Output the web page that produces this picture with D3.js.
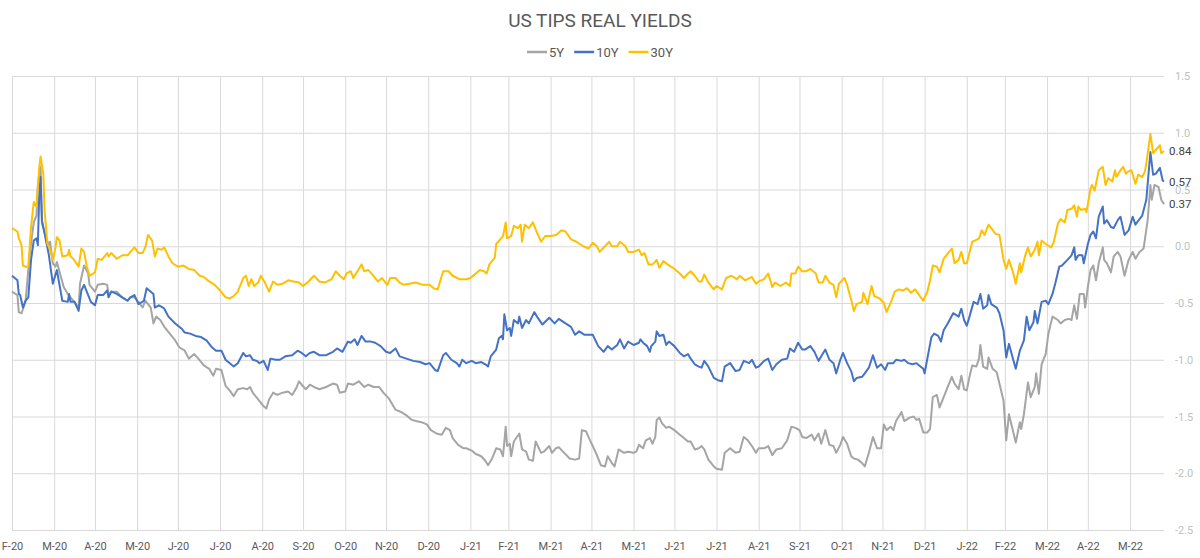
<!DOCTYPE html>
<html>
<head>
<meta charset="utf-8">
<script src="https://cdn.jsdelivr.net/npm/d3@7"></script>
<style>
    body { margin: 0; background: #fff; }
    text { font-family: Roboto, "DejaVu Sans", sans-serif; }
</style>
</head>
<body>
<svg id="chart"></svg>
<script>
// series + axis values
const seriesNames = ["5Y", "10Y", "30Y"];
const seriesColors = ["#a5a5a5", "#4472c4", "#ffc000"];
const yTicks = [-2.5, -2.0, -1.5, -1.0, -0.5, 0.0, 0.5, 1.0, 1.5];
const dateRange = ["2020-02-29", "2022-06-25"];

const yields5Y = [["2020-02-29",-0.40],["2020-03-04",-0.43],["2020-03-05",-0.58],["2020-03-07",-0.59],["2020-03-09",-0.52],["2020-03-10",-0.48],["2020-03-13",-0.07],["2020-03-16",0.21],["2020-03-18",0.27],["2020-03-19",0.54],["2020-03-21",0.70],["2020-03-22",0.20],["2020-03-25",0.08],["2020-03-27",0.01],["2020-03-28",0.04],["2020-03-30",-0.15],["2020-04-01",-0.18],["2020-04-02",-0.14],["2020-04-05",-0.27],["2020-04-07",-0.36],["2020-04-10",-0.42],["2020-04-12",-0.45],["2020-04-14",-0.48],["2020-04-18",-0.54],["2020-04-19",-0.33],["2020-04-22",-0.17],["2020-04-25",-0.24],["2020-04-26",-0.34],["2020-04-30",-0.40],["2020-05-02",-0.34],["2020-05-06",-0.33],["2020-05-09",-0.34],["2020-05-10",-0.43],["2020-05-12",-0.40],["2020-05-16",-0.40],["2020-05-20",-0.45],["2020-05-24",-0.48],["2020-05-26",-0.45],["2020-05-29",-0.45],["2020-06-01",-0.49],["2020-06-04",-0.54],["2020-06-06",-0.48],["2020-06-10",-0.54],["2020-06-12",-0.68],["2020-06-14",-0.62],["2020-06-17",-0.65],["2020-06-20",-0.71],["2020-06-24",-0.77],["2020-06-28",-0.83],["2020-07-01",-0.89],["2020-07-05",-0.92],["2020-07-08",-0.99],["2020-07-12",-0.95],["2020-07-15",-0.99],["2020-07-19",-1.05],["2020-07-23",-1.08],["2020-07-26",-1.14],["2020-07-28",-1.08],["2020-08-01",-1.09],["2020-08-04",-1.23],["2020-08-07",-1.27],["2020-08-10",-1.32],["2020-08-13",-1.26],["2020-08-17",-1.25],["2020-08-20",-1.26],["2020-08-22",-1.24],["2020-08-24",-1.29],["2020-08-28",-1.35],["2020-09-01",-1.41],["2020-09-03",-1.43],["2020-09-05",-1.35],["2020-09-08",-1.29],["2020-09-11",-1.31],["2020-09-15",-1.29],["2020-09-19",-1.28],["2020-09-22",-1.31],["2020-09-25",-1.25],["2020-09-27",-1.19],["2020-09-29",-1.22],["2020-10-02",-1.26],["2020-10-05",-1.22],["2020-10-08",-1.24],["2020-10-12",-1.26],["2020-10-17",-1.24],["2020-10-22",-1.21],["2020-10-25",-1.22],["2020-10-27",-1.29],["2020-10-31",-1.28],["2020-11-02",-1.21],["2020-11-06",-1.22],["2020-11-10",-1.19],["2020-11-14",-1.24],["2020-11-17",-1.22],["2020-11-21",-1.24],["2020-11-25",-1.24],["2020-11-28",-1.29],["2020-12-02",-1.34],["2020-12-05",-1.40],["2020-12-07",-1.44],["2020-12-11",-1.46],["2020-12-15",-1.49],["2020-12-19",-1.53],["2020-12-22",-1.54],["2020-12-26",-1.55],["2020-12-30",-1.57],["2021-01-02",-1.62],["2021-01-06",-1.65],["2021-01-10",-1.66],["2021-01-13",-1.60],["2021-01-16",-1.62],["2021-01-18",-1.69],["2021-01-22",-1.75],["2021-01-26",-1.78],["2021-01-28",-1.78],["2021-02-01",-1.80],["2021-02-04",-1.83],["2021-02-08",-1.85],["2021-02-11",-1.89],["2021-02-13",-1.93],["2021-02-16",-1.87],["2021-02-19",-1.78],["2021-02-22",-1.79],["2021-02-24",-1.85],["2021-02-26",-1.59],["2021-02-27",-1.76],["2021-03-01",-1.74],["2021-03-02",-1.85],["2021-03-04",-1.72],["2021-03-08",-1.65],["2021-03-10",-1.79],["2021-03-13",-1.81],["2021-03-15",-1.88],["2021-03-18",-1.89],["2021-03-20",-1.72],["2021-03-24",-1.82],["2021-03-26",-1.81],["2021-03-30",-1.76],["2021-04-01",-1.82],["2021-04-04",-1.78],["2021-04-06",-1.77],["2021-04-10",-1.82],["2021-04-14",-1.87],["2021-04-18",-1.88],["2021-04-21",-1.87],["2021-04-23",-1.62],["2021-04-26",-1.63],["2021-04-29",-1.71],["2021-05-01",-1.76],["2021-05-04",-1.84],["2021-05-07",-1.93],["2021-05-10",-1.94],["2021-05-12",-1.85],["2021-05-15",-1.91],["2021-05-17",-1.94],["2021-05-20",-1.79],["2021-05-24",-1.82],["2021-05-27",-1.81],["2021-05-31",-1.82],["2021-06-02",-1.81],["2021-06-04",-1.75],["2021-06-07",-1.78],["2021-06-09",-1.71],["2021-06-12",-1.69],["2021-06-14",-1.74],["2021-06-16",-1.68],["2021-06-17",-1.53],["2021-06-19",-1.51],["2021-06-21",-1.56],["2021-06-24",-1.60],["2021-06-26",-1.59],["2021-06-30",-1.62],["2021-07-04",-1.66],["2021-07-07",-1.69],["2021-07-10",-1.72],["2021-07-12",-1.72],["2021-07-15",-1.79],["2021-07-18",-1.78],["2021-07-20",-1.76],["2021-07-22",-1.79],["2021-07-25",-1.88],["2021-07-29",-1.94],["2021-07-31",-1.96],["2021-08-04",-1.97],["2021-08-06",-1.82],["2021-08-10",-1.78],["2021-08-14",-1.82],["2021-08-17",-1.81],["2021-08-20",-1.68],["2021-08-23",-1.71],["2021-08-26",-1.76],["2021-08-29",-1.82],["2021-08-31",-1.78],["2021-09-04",-1.78],["2021-09-07",-1.76],["2021-09-10",-1.84],["2021-09-13",-1.79],["2021-09-17",-1.78],["2021-09-21",-1.71],["2021-09-24",-1.59],["2021-09-27",-1.60],["2021-09-30",-1.62],["2021-10-02",-1.68],["2021-10-05",-1.69],["2021-10-09",-1.66],["2021-10-11",-1.71],["2021-10-14",-1.65],["2021-10-16",-1.74],["2021-10-19",-1.62],["2021-10-22",-1.75],["2021-10-25",-1.76],["2021-10-27",-1.82],["2021-10-30",-1.75],["2021-11-01",-1.68],["2021-11-04",-1.74],["2021-11-07",-1.85],["2021-11-09",-1.87],["2021-11-12",-1.88],["2021-11-15",-1.91],["2021-11-17",-1.94],["2021-11-20",-1.82],["2021-11-23",-1.68],["2021-11-26",-1.78],["2021-11-29",-1.78],["2021-12-01",-1.57],["2021-12-03",-1.62],["2021-12-06",-1.59],["2021-12-08",-1.62],["2021-12-10",-1.54],["2021-12-14",-1.46],["2021-12-16",-1.54],["2021-12-20",-1.51],["2021-12-23",-1.50],["2021-12-25",-1.53],["2021-12-27",-1.52],["2021-12-30",-1.64],["2022-01-02",-1.64],["2022-01-04",-1.61],["2022-01-06",-1.33],["2022-01-09",-1.31],["2022-01-11",-1.42],["2022-01-14",-1.33],["2022-01-17",-1.24],["2022-01-20",-1.15],["2022-01-22",-1.21],["2022-01-25",-1.26],["2022-01-27",-1.14],["2022-01-29",-1.26],["2022-01-31",-1.27],["2022-02-02",-1.15],["2022-02-04",-1.05],["2022-02-07",-1.06],["2022-02-09",-0.99],["2022-02-10",-0.87],["2022-02-12",-1.06],["2022-02-15",-1.08],["2022-02-16",-0.98],["2022-02-19",-1.08],["2022-02-22",-1.11],["2022-02-24",-1.21],["2022-02-27",-1.36],["2022-03-01",-1.71],["2022-03-03",-1.48],["2022-03-05",-1.58],["2022-03-08",-1.73],["2022-03-11",-1.55],["2022-03-12",-1.61],["2022-03-14",-1.48],["2022-03-17",-1.20],["2022-03-19",-1.33],["2022-03-22",-1.24],["2022-03-23",-1.12],["2022-03-25",-1.30],["2022-03-27",-1.04],["2022-03-30",-0.95],["2022-04-01",-0.77],["2022-04-04",-0.62],["2022-04-08",-0.65],["2022-04-10",-0.68],["2022-04-13",-0.65],["2022-04-16",-0.64],["2022-04-18",-0.65],["2022-04-20",-0.52],["2022-04-22",-0.64],["2022-04-24",-0.42],["2022-04-27",-0.42],["2022-04-28",-0.54],["2022-04-30",-0.36],["2022-05-02",-0.21],["2022-05-04",-0.17],["2022-05-06",-0.30],["2022-05-08",-0.15],["2022-05-11",-0.01],["2022-05-12",-0.12],["2022-05-14",-0.15],["2022-05-17",-0.23],["2022-05-19",-0.09],["2022-05-22",-0.05],["2022-05-24",-0.09],["2022-05-27",-0.26],["2022-05-30",-0.12],["2022-06-02",-0.05],["2022-06-04",-0.11],["2022-06-07",-0.05],["2022-06-10",-0.02],["2022-06-13",0.23],["2022-06-15",0.54],["2022-06-16",0.41],["2022-06-18",0.54],["2022-06-21",0.52],["2022-06-23",0.41],["2022-06-25",0.37]];

const yields10Y = [["2020-02-29",-0.26],["2020-03-04",-0.30],["2020-03-05",-0.42],["2020-03-06",-0.43],["2020-03-08",-0.54],["2020-03-10",-0.48],["2020-03-12",-0.45],["2020-03-14",-0.12],["2020-03-16",0.05],["2020-03-18",0.07],["2020-03-19",0.01],["2020-03-20",0.44],["2020-03-21",0.61],["2020-03-22",0.23],["2020-03-24",0.11],["2020-03-27",-0.07],["2020-03-30",-0.33],["2020-04-02",-0.21],["2020-04-06",-0.48],["2020-04-10",-0.49],["2020-04-11",-0.42],["2020-04-12",-0.49],["2020-04-15",-0.49],["2020-04-18",-0.57],["2020-04-20",-0.39],["2020-04-22",-0.34],["2020-04-25",-0.43],["2020-04-27",-0.49],["2020-04-30",-0.52],["2020-05-02",-0.43],["2020-05-06",-0.43],["2020-05-09",-0.39],["2020-05-10",-0.45],["2020-05-12",-0.40],["2020-05-16",-0.42],["2020-05-20",-0.45],["2020-05-24",-0.48],["2020-05-26",-0.45],["2020-05-29",-0.43],["2020-06-01",-0.51],["2020-06-05",-0.48],["2020-06-07",-0.37],["2020-06-10",-0.40],["2020-06-12",-0.42],["2020-06-13",-0.54],["2020-06-16",-0.52],["2020-06-19",-0.54],["2020-06-20",-0.55],["2020-06-23",-0.62],["2020-06-28",-0.68],["2020-07-03",-0.73],["2020-07-05",-0.76],["2020-07-09",-0.77],["2020-07-13",-0.79],["2020-07-17",-0.80],["2020-07-21",-0.83],["2020-07-25",-0.89],["2020-07-28",-0.92],["2020-08-01",-0.92],["2020-08-04",-1.00],["2020-08-06",-1.02],["2020-08-10",-1.06],["2020-08-13",-1.03],["2020-08-17",-0.94],["2020-08-19",-0.97],["2020-08-22",-0.96],["2020-08-24",-1.00],["2020-08-27",-1.01],["2020-08-29",-1.03],["2020-09-01",-1.01],["2020-09-04",-1.09],["2020-09-06",-0.99],["2020-09-10",-1.00],["2020-09-13",-1.00],["2020-09-17",-0.97],["2020-09-22",-0.96],["2020-09-26",-0.92],["2020-09-29",-0.94],["2020-10-02",-0.97],["2020-10-05",-0.94],["2020-10-08",-0.93],["2020-10-12",-0.96],["2020-10-17",-0.96],["2020-10-22",-0.93],["2020-10-25",-0.90],["2020-10-29",-0.93],["2020-11-02",-0.84],["2020-11-04",-0.85],["2020-11-07",-0.82],["2020-11-09",-0.87],["2020-11-12",-0.79],["2020-11-15",-0.84],["2020-11-19",-0.84],["2020-11-22",-0.85],["2020-11-26",-0.88],["2020-11-30",-0.93],["2020-12-03",-0.94],["2020-12-07",-0.90],["2020-12-10",-0.97],["2020-12-15",-0.99],["2020-12-20",-1.01],["2020-12-25",-1.02],["2020-12-29",-1.04],["2021-01-01",-1.03],["2021-01-05",-1.09],["2021-01-07",-1.10],["2021-01-11",-0.96],["2021-01-13",-0.94],["2021-01-17",-1.00],["2021-01-21",-1.03],["2021-01-23",-1.06],["2021-01-25",-1.00],["2021-01-28",-1.03],["2021-02-01",-1.01],["2021-02-04",-1.03],["2021-02-08",-1.02],["2021-02-11",-1.04],["2021-02-13",-1.06],["2021-02-15",-0.97],["2021-02-19",-0.91],["2021-02-21",-0.81],["2021-02-23",-0.79],["2021-02-24",-0.82],["2021-02-25",-0.60],["2021-02-27",-0.74],["2021-03-01",-0.72],["2021-03-02",-0.79],["2021-03-04",-0.65],["2021-03-07",-0.68],["2021-03-08",-0.62],["2021-03-10",-0.72],["2021-03-13",-0.65],["2021-03-15",-0.68],["2021-03-19",-0.58],["2021-03-21",-0.62],["2021-03-25",-0.69],["2021-03-30",-0.63],["2021-04-03",-0.68],["2021-04-06",-0.64],["2021-04-11",-0.68],["2021-04-15",-0.71],["2021-04-18",-0.78],["2021-04-21",-0.75],["2021-04-25",-0.78],["2021-04-29",-0.78],["2021-05-01",-0.78],["2021-05-05",-0.88],["2021-05-09",-0.93],["2021-05-12",-0.88],["2021-05-15",-0.91],["2021-05-19",-0.87],["2021-05-21",-0.82],["2021-05-24",-0.90],["2021-05-27",-0.84],["2021-05-31",-0.87],["2021-06-04",-0.85],["2021-06-05",-0.82],["2021-06-07",-0.85],["2021-06-10",-0.88],["2021-06-12",-0.93],["2021-06-13",-0.88],["2021-06-16",-0.84],["2021-06-17",-0.75],["2021-06-19",-0.79],["2021-06-22",-0.78],["2021-06-24",-0.87],["2021-06-26",-0.84],["2021-06-30",-0.88],["2021-07-04",-0.94],["2021-07-07",-0.97],["2021-07-10",-0.95],["2021-07-12",-0.99],["2021-07-15",-1.04],["2021-07-18",-1.06],["2021-07-20",-1.07],["2021-07-22",-1.01],["2021-07-25",-1.06],["2021-07-29",-1.16],["2021-08-01",-1.18],["2021-08-04",-1.19],["2021-08-06",-1.06],["2021-08-10",-1.03],["2021-08-14",-1.10],["2021-08-17",-1.09],["2021-08-20",-1.01],["2021-08-24",-1.03],["2021-08-26",-1.00],["2021-08-29",-1.07],["2021-08-31",-1.06],["2021-09-04",-1.01],["2021-09-07",-0.99],["2021-09-10",-1.09],["2021-09-13",-1.04],["2021-09-17",-1.00],["2021-09-21",-0.99],["2021-09-23",-0.90],["2021-09-26",-0.93],["2021-09-29",-0.85],["2021-10-02",-0.91],["2021-10-04",-0.91],["2021-10-08",-0.88],["2021-10-11",-0.93],["2021-10-14",-1.01],["2021-10-16",-0.97],["2021-10-19",-0.91],["2021-10-22",-1.00],["2021-10-25",-1.03],["2021-10-27",-1.12],["2021-10-30",-1.00],["2021-11-01",-0.94],["2021-11-04",-1.03],["2021-11-07",-1.10],["2021-11-09",-1.19],["2021-11-11",-1.16],["2021-11-15",-1.15],["2021-11-17",-1.12],["2021-11-20",-1.07],["2021-11-23",-0.96],["2021-11-26",-1.07],["2021-11-29",-1.04],["2021-12-02",-1.09],["2021-12-04",-1.03],["2021-12-08",-1.03],["2021-12-10",-1.00],["2021-12-14",-1.01],["2021-12-16",-1.00],["2021-12-19",-1.03],["2021-12-22",-1.04],["2021-12-25",-1.03],["2021-12-27",-1.05],["2021-12-30",-1.08],["2021-12-31",-1.12],["2022-01-02",-0.99],["2022-01-05",-0.80],["2022-01-07",-0.77],["2022-01-10",-0.79],["2022-01-12",-0.84],["2022-01-14",-0.74],["2022-01-17",-0.68],["2022-01-21",-0.59],["2022-01-25",-0.62],["2022-01-27",-0.55],["2022-01-29",-0.65],["2022-01-31",-0.70],["2022-02-02",-0.62],["2022-02-05",-0.49],["2022-02-08",-0.51],["2022-02-10",-0.42],["2022-02-12",-0.55],["2022-02-15",-0.52],["2022-02-16",-0.43],["2022-02-18",-0.51],["2022-02-22",-0.54],["2022-02-24",-0.59],["2022-02-27",-0.74],["2022-03-01",-0.98],["2022-03-03",-0.86],["2022-03-05",-0.95],["2022-03-08",-1.08],["2022-03-11",-0.92],["2022-03-12",-0.89],["2022-03-14",-0.83],["2022-03-16",-0.62],["2022-03-18",-0.74],["2022-03-21",-0.67],["2022-03-22",-0.57],["2022-03-24",-0.68],["2022-03-27",-0.49],["2022-03-30",-0.48],["2022-04-01",-0.51],["2022-04-04",-0.42],["2022-04-06",-0.33],["2022-04-09",-0.18],["2022-04-11",-0.17],["2022-04-15",-0.12],["2022-04-18",-0.08],["2022-04-20",-0.01],["2022-04-21",-0.12],["2022-04-23",-0.08],["2022-04-26",-0.08],["2022-04-27",-0.15],["2022-04-30",0.02],["2022-05-02",0.10],["2022-05-04",0.13],["2022-05-06",0.07],["2022-05-08",0.26],["2022-05-11",0.35],["2022-05-12",0.20],["2022-05-14",0.23],["2022-05-17",0.17],["2022-05-19",0.16],["2022-05-22",0.23],["2022-05-24",0.26],["2022-05-27",0.10],["2022-05-30",0.14],["2022-06-02",0.26],["2022-06-04",0.19],["2022-06-07",0.24],["2022-06-09",0.27],["2022-06-12",0.41],["2022-06-15",0.83],["2022-06-17",0.63],["2022-06-19",0.64],["2022-06-22",0.69],["2022-06-24",0.58],["2022-06-25",0.57]];

const yields30Y = [["2020-02-29",0.16],["2020-03-04",0.13],["2020-03-05",0.07],["2020-03-07",0.01],["2020-03-08",-0.17],["2020-03-10",-0.18],["2020-03-12",-0.18],["2020-03-14",0.17],["2020-03-16",0.39],["2020-03-18",0.35],["2020-03-20",0.69],["2020-03-21",0.79],["2020-03-23",0.64],["2020-03-24",0.30],["2020-03-25",0.17],["2020-03-26",0.02],["2020-03-28",-0.03],["2020-03-30",-0.12],["2020-04-01",-0.01],["2020-04-02",0.08],["2020-04-04",0.05],["2020-04-06",-0.09],["2020-04-10",-0.08],["2020-04-11",-0.03],["2020-04-12",-0.09],["2020-04-14",-0.11],["2020-04-18",-0.18],["2020-04-20",-0.02],["2020-04-22",-0.05],["2020-04-24",-0.18],["2020-04-26",-0.26],["2020-04-30",-0.23],["2020-05-02",-0.11],["2020-05-05",-0.12],["2020-05-09",-0.06],["2020-05-10",-0.09],["2020-05-12",-0.06],["2020-05-16",-0.11],["2020-05-20",-0.08],["2020-05-24",-0.08],["2020-05-26",-0.05],["2020-05-29",-0.01],["2020-06-01",-0.06],["2020-06-04",-0.06],["2020-06-06",-0.01],["2020-06-08",0.10],["2020-06-11",0.05],["2020-06-13",-0.09],["2020-06-15",-0.02],["2020-06-18",-0.03],["2020-06-20",-0.01],["2020-06-23",-0.09],["2020-06-26",-0.15],["2020-06-30",-0.18],["2020-07-04",-0.17],["2020-07-08",-0.20],["2020-07-12",-0.21],["2020-07-16",-0.26],["2020-07-19",-0.27],["2020-07-23",-0.31],["2020-07-27",-0.34],["2020-07-31",-0.39],["2020-08-04",-0.45],["2020-08-07",-0.46],["2020-08-10",-0.44],["2020-08-13",-0.40],["2020-08-17",-0.28],["2020-08-19",-0.26],["2020-08-21",-0.35],["2020-08-23",-0.29],["2020-08-25",-0.35],["2020-08-28",-0.32],["2020-08-30",-0.26],["2020-09-02",-0.32],["2020-09-05",-0.40],["2020-09-08",-0.31],["2020-09-11",-0.34],["2020-09-15",-0.33],["2020-09-19",-0.30],["2020-09-23",-0.31],["2020-09-27",-0.32],["2020-09-30",-0.35],["2020-10-04",-0.31],["2020-10-08",-0.26],["2020-10-12",-0.31],["2020-10-16",-0.32],["2020-10-21",-0.29],["2020-10-24",-0.22],["2020-10-27",-0.26],["2020-10-30",-0.29],["2020-11-01",-0.24],["2020-11-04",-0.22],["2020-11-06",-0.28],["2020-11-09",-0.22],["2020-11-12",-0.16],["2020-11-14",-0.22],["2020-11-17",-0.21],["2020-11-20",-0.25],["2020-11-24",-0.31],["2020-11-27",-0.28],["2020-12-01",-0.34],["2020-12-03",-0.28],["2020-12-07",-0.28],["2020-12-10",-0.32],["2020-12-13",-0.34],["2020-12-17",-0.33],["2020-12-22",-0.32],["2020-12-27",-0.34],["2021-01-01",-0.34],["2021-01-04",-0.37],["2021-01-07",-0.38],["2021-01-11",-0.22],["2021-01-15",-0.22],["2021-01-18",-0.26],["2021-01-23",-0.29],["2021-01-28",-0.29],["2021-01-31",-0.28],["2021-02-03",-0.25],["2021-02-07",-0.21],["2021-02-10",-0.22],["2021-02-12",-0.24],["2021-02-14",-0.16],["2021-02-18",-0.10],["2021-02-19",0.02],["2021-02-22",0.06],["2021-02-24",0.09],["2021-02-26",0.21],["2021-02-27",0.07],["2021-03-02",0.09],["2021-03-04",0.18],["2021-03-07",0.16],["2021-03-09",0.19],["2021-03-10",0.04],["2021-03-12",0.19],["2021-03-15",0.16],["2021-03-18",0.21],["2021-03-21",0.12],["2021-03-24",0.04],["2021-03-27",0.09],["2021-03-31",0.09],["2021-04-04",0.10],["2021-04-08",0.14],["2021-04-11",0.13],["2021-04-15",0.06],["2021-04-19",0.04],["2021-04-24",0.00],["2021-04-28",-0.02],["2021-05-01",0.03],["2021-05-04",0.00],["2021-05-06",-0.05],["2021-05-10",0.00],["2021-05-13",0.04],["2021-05-15",0.00],["2021-05-19",0.00],["2021-05-21",0.04],["2021-05-25",0.00],["2021-05-27",-0.05],["2021-05-31",-0.05],["2021-06-04",-0.03],["2021-06-06",-0.08],["2021-06-08",-0.06],["2021-06-11",-0.16],["2021-06-14",-0.16],["2021-06-17",-0.12],["2021-06-19",-0.19],["2021-06-22",-0.13],["2021-06-25",-0.16],["2021-06-29",-0.19],["2021-07-04",-0.24],["2021-07-07",-0.28],["2021-07-10",-0.24],["2021-07-12",-0.22],["2021-07-15",-0.26],["2021-07-18",-0.31],["2021-07-20",-0.31],["2021-07-22",-0.25],["2021-07-25",-0.32],["2021-07-29",-0.38],["2021-07-31",-0.35],["2021-08-04",-0.38],["2021-08-07",-0.28],["2021-08-11",-0.26],["2021-08-15",-0.29],["2021-08-17",-0.26],["2021-08-21",-0.30],["2021-08-26",-0.27],["2021-08-29",-0.33],["2021-08-31",-0.31],["2021-09-04",-0.29],["2021-09-07",-0.24],["2021-09-10",-0.36],["2021-09-12",-0.32],["2021-09-16",-0.35],["2021-09-20",-0.32],["2021-09-23",-0.35],["2021-09-24",-0.24],["2021-09-27",-0.24],["2021-09-29",-0.18],["2021-10-02",-0.22],["2021-10-05",-0.22],["2021-10-08",-0.20],["2021-10-12",-0.24],["2021-10-14",-0.32],["2021-10-17",-0.32],["2021-10-19",-0.26],["2021-10-22",-0.32],["2021-10-25",-0.34],["2021-10-27",-0.45],["2021-10-29",-0.33],["2021-11-02",-0.28],["2021-11-04",-0.34],["2021-11-06",-0.43],["2021-11-07",-0.47],["2021-11-09",-0.57],["2021-11-11",-0.51],["2021-11-15",-0.49],["2021-11-16",-0.41],["2021-11-19",-0.51],["2021-11-22",-0.35],["2021-11-24",-0.44],["2021-11-28",-0.46],["2021-12-01",-0.50],["2021-12-03",-0.58],["2021-12-07",-0.47],["2021-12-09",-0.40],["2021-12-12",-0.38],["2021-12-15",-0.39],["2021-12-18",-0.37],["2021-12-21",-0.41],["2021-12-24",-0.38],["2021-12-27",-0.43],["2021-12-30",-0.48],["2022-01-02",-0.40],["2022-01-04",-0.30],["2022-01-06",-0.17],["2022-01-09",-0.18],["2022-01-11",-0.23],["2022-01-14",-0.11],["2022-01-16",-0.08],["2022-01-20",-0.02],["2022-01-22",-0.15],["2022-01-25",-0.12],["2022-01-27",-0.05],["2022-01-29",-0.15],["2022-01-31",-0.15],["2022-02-04",0.04],["2022-02-06",0.05],["2022-02-09",0.07],["2022-02-11",0.14],["2022-02-13",0.10],["2022-02-16",0.19],["2022-02-18",0.16],["2022-02-21",0.11],["2022-02-24",0.10],["2022-02-27",-0.12],["2022-03-01",-0.20],["2022-03-03",-0.12],["2022-03-06",-0.23],["2022-03-08",-0.33],["2022-03-11",-0.15],["2022-03-12",-0.23],["2022-03-15",-0.08],["2022-03-17",-0.01],["2022-03-19",-0.09],["2022-03-22",-0.03],["2022-03-24",0.04],["2022-03-25",-0.08],["2022-03-27",0.05],["2022-03-30",0.02],["2022-04-03",-0.01],["2022-04-05",0.04],["2022-04-08",0.20],["2022-04-10",0.24],["2022-04-13",0.21],["2022-04-15",0.32],["2022-04-18",0.33],["2022-04-20",0.36],["2022-04-22",0.26],["2022-04-23",0.35],["2022-04-25",0.32],["2022-04-28",0.33],["2022-04-29",0.30],["2022-05-02",0.51],["2022-05-03",0.54],["2022-05-05",0.49],["2022-05-08",0.67],["2022-05-11",0.70],["2022-05-13",0.54],["2022-05-15",0.60],["2022-05-18",0.57],["2022-05-20",0.67],["2022-05-21",0.61],["2022-05-24",0.67],["2022-05-26",0.70],["2022-05-28",0.64],["2022-05-30",0.66],["2022-06-01",0.67],["2022-06-04",0.55],["2022-06-06",0.63],["2022-06-09",0.61],["2022-06-11",0.66],["2022-06-12",0.73],["2022-06-15",0.99],["2022-06-17",0.82],["2022-06-19",0.85],["2022-06-22",0.89],["2022-06-23",0.82],["2022-06-25",0.84]];

// init setting
const svg = d3.select("#chart")
    .attr("width", 1200)
    .attr("height", 558);
const plot = { left: 12, right: 1164, top: 76, bottom: 530 };
const parseDate = d3.timeParse("%Y-%m-%d");

const series = seriesNames.map((name, i) => ({
    name: name,
    color: seriesColors[i],
    values: [yields5Y, yields10Y, yields30Y][i].map(d => ({ date: parseDate(d[0]), value: d[1] }))
}));

// scales
const xScale = d3.scaleTime()
    .domain(dateRange.map(parseDate))
    .range([plot.left, plot.right]);
const yScale = d3.scaleLinear()
    .domain([-2.5, 1.5])
    .range([plot.bottom, plot.top]);

// month-end ticks (the original axis labels each month at its last day)
const monthEnds = d3.timeMonth.range(parseDate("2020-03-01"), parseDate("2022-06-02"))
    .map(d => d3.timeDay.offset(d, -1));
const fmtMonth = d3.timeFormat("%b");
const fmtYear = d3.timeFormat("%y");

// x-axis with vertical gridlines
const xAxis = svg.append("g")
    .attr("class", "x-axis")
    .attr("transform", `translate(0, ${plot.bottom})`)
    .call(d3.axisBottom(xScale)
        .tickValues(monthEnds)
        .tickSizeInner(-(plot.bottom - plot.top))
        .tickSizeOuter(0)
        .tickPadding(12)
        .tickFormat(d => fmtMonth(d)[0] + "-" + fmtYear(d)));
xAxis.select(".domain").remove();
xAxis.selectAll("line").attr("stroke", "#d9d9d9");
xAxis.selectAll("text")
    .attr("fill", "#595959")
    .style("font-size", "11px");

// y-axis on the right with horizontal gridlines
const yAxis = svg.append("g")
    .attr("class", "y-axis")
    .attr("transform", `translate(${plot.right}, 0)`)
    .call(d3.axisRight(yScale)
        .tickValues(yTicks)
        .tickSizeInner(-(plot.right - plot.left))
        .tickSizeOuter(0)
        .tickPadding(11)
        .tickFormat(d => d.toFixed(1)));
yAxis.select(".domain").remove();
yAxis.selectAll("line").attr("stroke", "#d9d9d9");
yAxis.selectAll("text")
    .attr("fill", "#bfbfbf")
    .style("font-size", "11px");

// lines
const line = d3.line()
    .x(d => xScale(d.date))
    .y(d => yScale(d.value));

svg.selectAll(".series")
    .data(series)
    .enter().append("path")
    .attr("class", "series")
    .attr("fill", "none")
    .attr("stroke", d => d.color)
    .attr("stroke-width", 2)
    .attr("stroke-linejoin", "round")
    .attr("d", d => line(d.values));

// last value labels
svg.selectAll(".last-label")
    .data(series)
    .enter().append("text")
    .attr("class", "last-label")
    .attr("x", d => xScale(d.values[d.values.length - 1].date) + 5)
    .attr("y", d => yScale(d.values[d.values.length - 1].value))
    .attr("dy", "0.35em")
    .attr("fill", "#404040")
    .style("font-size", "11.5px")
    .text(d => d.values[d.values.length - 1].value.toFixed(2));

// title
svg.append("text")
    .attr("x", 600)
    .attr("y", 27)
    .attr("text-anchor", "middle")
    .attr("fill", "#595959")
    .style("font-size", "19px")
    .text("US TIPS REAL YIELDS");

// legend
const legend = svg.append("g").attr("class", "legend");
let cursor = 0;
series.forEach(s => {
    const item = legend.append("g").attr("transform", `translate(${cursor}, 0)`);
    item.append("line")
        .attr("x1", 0).attr("x2", 20)
        .attr("y1", 0).attr("y2", 0)
        .attr("stroke", s.color)
        .attr("stroke-width", 2.5);
    const label = item.append("text")
        .attr("x", 22)
        .attr("dy", "0.35em")
        .attr("fill", "#595959")
        .style("font-size", "13px")
        .text(s.name);
    cursor += 22 + label.node().getComputedTextLength() + 10;
});
legend.attr("transform", `translate(${600 - (cursor - 10) / 2}, 52)`);
</script>
</body>
</html>
